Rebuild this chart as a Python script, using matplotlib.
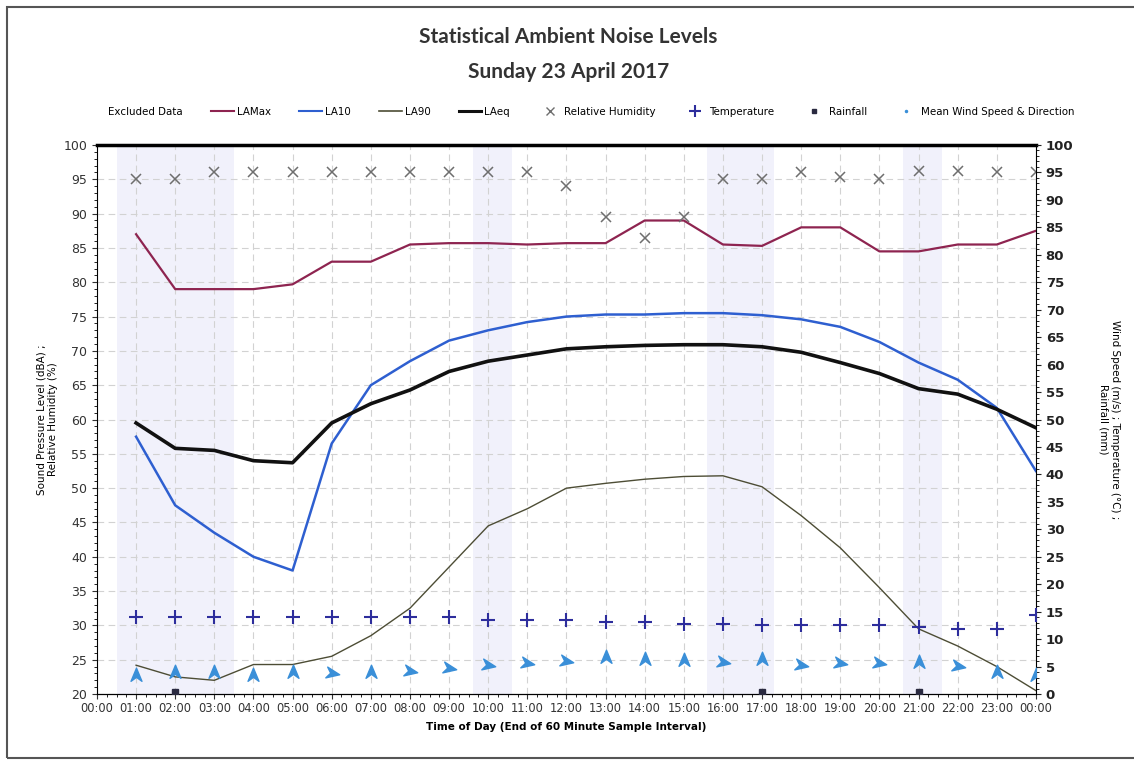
import matplotlib
matplotlib.use('Agg')
import matplotlib.pyplot as plt
from matplotlib.markers import MarkerStyle
from matplotlib.path import Path
from matplotlib.patches import Patch, Rectangle
from matplotlib.lines import Line2D
from matplotlib.transforms import Affine2D
from matplotlib.ticker import MultipleLocator

# Hourly sample intervals (end of interval), 01:00 ... 24:00
hours = list(range(1, 25))
tick_labels = [f'{h % 24:02d}:00' for h in range(25)]

lamax = [87.0, 79.0, 79.0, 79.0, 79.7, 83.0, 83.0, 85.5, 85.7, 85.7, 85.5, 85.7,
         85.7, 89.0, 89.0, 85.5, 85.3, 88.0, 88.0, 84.5, 84.5, 85.5, 85.5, 87.5]
la10 = [57.5, 47.5, 43.5, 40.0, 38.0, 56.5, 65.0, 68.5, 71.5, 73.0, 74.2, 75.0,
        75.3, 75.3, 75.5, 75.5, 75.2, 74.6, 73.5, 71.3, 68.3, 65.8, 61.7, 52.5]
la90 = [24.2, 22.5, 22.0, 24.3, 24.3, 25.5, 28.5, 32.5, 38.5, 44.5, 47.0, 50.0,
        50.7, 51.3, 51.7, 51.8, 50.2, 46.0, 41.3, 35.5, 29.5, 27.0, 24.0, 20.5]
laeq = [59.5, 55.8, 55.5, 54.0, 53.7, 59.5, 62.3, 64.3, 67.0, 68.5, 69.4, 70.3,
        70.6, 70.8, 70.9, 70.9, 70.6, 69.8, 68.3, 66.7, 64.5, 63.7, 61.5, 58.8]
humidity = [95.0, 95.0, 96.0, 96.0, 96.0, 96.0, 96.0, 96.0, 96.0, 96.0, 96.0, 94.0,
            89.5, 86.5, 89.5, 95.0, 95.0, 96.0, 95.3, 95.0, 96.2, 96.2, 96.0, 96.0]
temperature = [14.0, 14.0, 14.0, 14.0, 14.0, 14.0, 14.0, 14.0, 14.0, 13.5, 13.5, 13.5,
               13.1, 13.1, 12.7, 12.7, 12.5, 12.5, 12.5, 12.5, 12.2, 11.8, 11.8, 14.4]
wind_speed = [3.5, 4.0, 4.0, 3.5, 4.0, 3.8, 4.0, 4.2, 4.7, 5.3, 5.6, 6.0,
              6.7, 6.4, 6.2, 5.8, 6.4, 5.3, 5.6, 5.6, 5.8, 5.1, 4.0, 3.5]
wind_dir = [0, 0, 0, 0, 0, 100, 0, 100, 100, 100, 100, 100,
            0, 0, 0, 100, 0, 100, 100, 100, 0, 100, 0, 0]
rain_hours = [2, 17, 21]
rain_mm = [0.3, 0.3, 0.3]
excluded = [(0.5, 3.5), (9.6, 10.6), (15.6, 17.3), (20.6, 21.6)]

c_lamax = '#8e2450'
c_la10 = '#2e5fd0'
c_la90 = '#4d4d35'
c_laeq = '#111111'
c_rh = '#6e6e6e'
c_temp = '#2d2d9c'
c_wind = '#3a8fd8'
c_rain = '#2a2a40'
c_excl = '#f1f1fb'

fig = plt.figure(figsize=(11.34, 7.6), dpi=100)
ax = fig.add_axes([0.0855, 0.0868, 0.828, 0.7224])
ax2 = ax.twinx()

for a, b in excluded:
    ax.axvspan(a, b, color=c_excl, lw=0, zorder=0)

ax.plot(hours, lamax, color=c_lamax, lw=1.6, zorder=4)
ax.plot(hours, la10, color=c_la10, lw=1.8, zorder=4)
ax.plot(hours, la90, color=c_la90, lw=1.0, zorder=4)
ax.plot(hours, laeq, color=c_laeq, lw=2.6, zorder=5)
ax.plot(hours, humidity, ls='none', marker='x', ms=6.5, mew=1.1, color=c_rh, zorder=5)

ax.set_xlim(0, 24)
ax.set_ylim(20, 100)
ax.set_xticks(range(25))
ax.set_xticklabels(tick_labels, fontsize=8.3)
ax.xaxis.set_minor_locator(MultipleLocator(0.25))
ax.yaxis.set_major_locator(MultipleLocator(5))
ax.yaxis.set_minor_locator(MultipleLocator(1))
ax.tick_params(axis='y', labelsize=9, colors='#333333')
ax.tick_params(axis='x', colors='#333333', pad=2)
ax.grid(True, which='major', ls=(0, (6, 4)), color='#d2d2d2', lw=0.8)
ax.spines['top'].set_linewidth(2.5)
ax.spines['right'].set_visible(False)

# right axis: wind, temperature, rainfall
ax2.set_ylim(0, 100)
ax2.yaxis.set_major_locator(MultipleLocator(5))
ax2.yaxis.set_minor_locator(MultipleLocator(1))
ax2.tick_params(axis='y', labelsize=9.5, colors='#222222')
for lab in ax2.get_yticklabels():
    lab.set_fontweight('bold')
ax2.spines['top'].set_visible(False)
ax2.spines['left'].set_visible(False)

ax2.plot(hours, temperature, ls='none', marker='+', ms=10, mew=1.5, color=c_temp, zorder=6)
ax2.plot(rain_hours, rain_mm, ls='none', marker='s', ms=4, color=c_rain, zorder=6)

head = Path([(0, 1), (0.75, -0.8), (0, -0.25), (-0.75, -0.8), (0, 1)],
            [Path.MOVETO, Path.LINETO, Path.LINETO, Path.LINETO, Path.CLOSEPOLY])
for h, s, d in zip(hours, wind_speed, wind_dir):
    m = MarkerStyle(head, transform=Affine2D().rotate_deg(-d))
    ax2.plot([h], [s], ls='none', marker=m, ms=10.5, color=c_wind, mec=c_wind, zorder=6)

ax.set_ylabel('Sound Pressure Level (dBA) ;\nRelative Humidity (%)', fontsize=7.5, labelpad=4)
ax2.set_ylabel('Wind Speed (m/s) ; Temperature (°C) ;\nRainfall (mm)', fontsize=7.5,
               rotation=270, labelpad=34)
ax.set_xlabel('Time of Day (End of 60 Minute Sample Interval)', fontsize=7.5,
              fontweight='bold', labelpad=5)

fig.text(0.501, 0.951, 'Statistical Ambient Noise Levels', ha='center', va='center',
         fontsize=15, fontweight='bold', family='Lato', color='#333333')
fig.text(0.501, 0.905, 'Sunday 23 April 2017', ha='center', va='center',
         fontsize=15, fontweight='bold', family='Lato', color='#333333')

handles = [
    Patch(facecolor='white', edgecolor='none', label='Excluded Data'),
    Line2D([], [], color=c_lamax, lw=1.5, label='LAMax'),
    Line2D([], [], color=c_la10, lw=1.5, label='LA10'),
    Line2D([], [], color=c_la90, lw=1.2, label='LA90'),
    Line2D([], [], color=c_laeq, lw=2.2, label='LAeq'),
    Line2D([], [], ls='none', marker='x', ms=6, color=c_rh, label='Relative Humidity'),
    Line2D([], [], ls='none', marker='+', ms=8, mew=1.5, color=c_temp, label='Temperature'),
    Line2D([], [], ls='none', marker='s', ms=3, color=c_rain, label='Rainfall'),
    Line2D([], [], ls='none', marker='.', ms=3, color=c_wind, label='Mean Wind Speed & Direction'),
]
fig.legend(handles=handles, loc='center', bbox_to_anchor=(0.51, 0.853), ncol=9,
           frameon=False, fontsize=7.4, handlelength=2.2, handletextpad=0.3,
           columnspacing=2.75)

fig.add_artist(Rectangle((0.006, 0.003), 1.1, 0.988, transform=fig.transFigure,
                         fill=False, edgecolor='#555555', lw=1.5))

fig.savefig('out.png', dpi=100)
